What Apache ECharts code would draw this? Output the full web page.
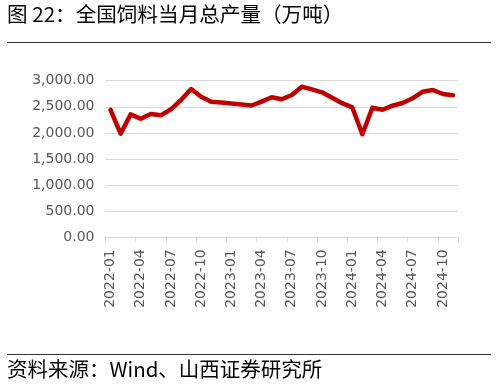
<!DOCTYPE html>
<html>
<head>
<meta charset="utf-8">
<script src="https://cdn.jsdelivr.net/npm/echarts@6/dist/echarts.min.js"></script>
<style>
html,body{margin:0;padding:0;background:#fff;}
#c{width:496px;height:385px;}
</style>
</head>
<body>
<div id="c"></div>
<script>
const categories = [
  '2022-01','2022-02','2022-03','2022-04','2022-05','2022-06','2022-07','2022-08','2022-09','2022-10','2022-11','2022-12',
  '2023-01','2023-02','2023-03','2023-04','2023-05','2023-06','2023-07','2023-08','2023-09','2023-10','2023-11','2023-12',
  '2024-01','2024-02','2024-03','2024-04','2024-05','2024-06','2024-07','2024-08','2024-09','2024-10','2024-11'
];
const feedOutput = [
  2440, 1985, 2355, 2272, 2362, 2337, 2452, 2630, 2841, 2693, 2598, 2582,
  2565, 2545, 2525, 2598, 2682, 2644, 2726, 2885, 2835, 2778, 2674, 2570,
  2490, 1975, 2483, 2444, 2521, 2573, 2663, 2789, 2822, 2745, 2720
];
const yTicks = { min: 0, max: 3000, interval: 500 };
const titleText = '图 22：全国饲料当月总产量（万吨）';
const sourceText = '资料来源：Wind、山西证券研究所';

const chart = echarts.init(document.getElementById('c'), null, { renderer: 'canvas' });
const cjk = '"Noto Sans CJK SC", "Noto Sans", sans-serif';
const num = '"DejaVu Sans", sans-serif';

chart.setOption({
  animation: false,
  backgroundColor: '#ffffff',
  grid: { left: 105.5, right: 38, top: 80.7, bottom: 147.7, containLabel: false },
  graphic: [
    { type: 'text', left: 7, top: 4, style: { text: titleText, font: '20.6px ' + cjk, fill: '#000' } },
    { type: 'line', shape: { x1: 7, y1: 42.5, x2: 491, y2: 42.5 }, style: { stroke: '#333', lineWidth: 1 } },
    { type: 'line', shape: { x1: 7, y1: 354.5, x2: 491, y2: 354.5 }, style: { stroke: '#333', lineWidth: 1 } },
    { type: 'text', left: 7, top: 359, style: { text: sourceText, font: '20.5px ' + cjk, fill: '#000' } }
  ],
  xAxis: {
    type: 'category',
    data: categories,
    boundaryGap: true,
    axisLine: { show: true, lineStyle: { color: '#d9d9d9', width: 1 } },
    axisTick: { show: true, interval: 2, length: 5, lineStyle: { color: '#d9d9d9' } },
    axisLabel: { interval: 2, rotate: 90, margin: 12, fontFamily: num, fontSize: 14, color: '#595959' },
    splitLine: { show: false }
  },
  yAxis: {
    type: 'value',
    min: yTicks.min, max: yTicks.max, interval: yTicks.interval,
    axisLine: { show: false },
    axisTick: { show: false },
    axisLabel: {
      margin: 11, fontFamily: num, fontSize: 14, color: '#595959',
      formatter: v => v.toLocaleString('en-US', { minimumFractionDigits: 2, maximumFractionDigits: 2 })
    },
    splitLine: { show: true, lineStyle: { color: '#d9d9d9', width: 1 } }
  },
  series: [{
    type: 'line',
    data: feedOutput,
    showSymbol: false,
    smooth: false,
    lineStyle: { color: '#c00000', width: 4.5, join: 'round', cap: 'round' },
    itemStyle: { color: '#c00000' }
  }]
});
</script>
</body>
</html>
